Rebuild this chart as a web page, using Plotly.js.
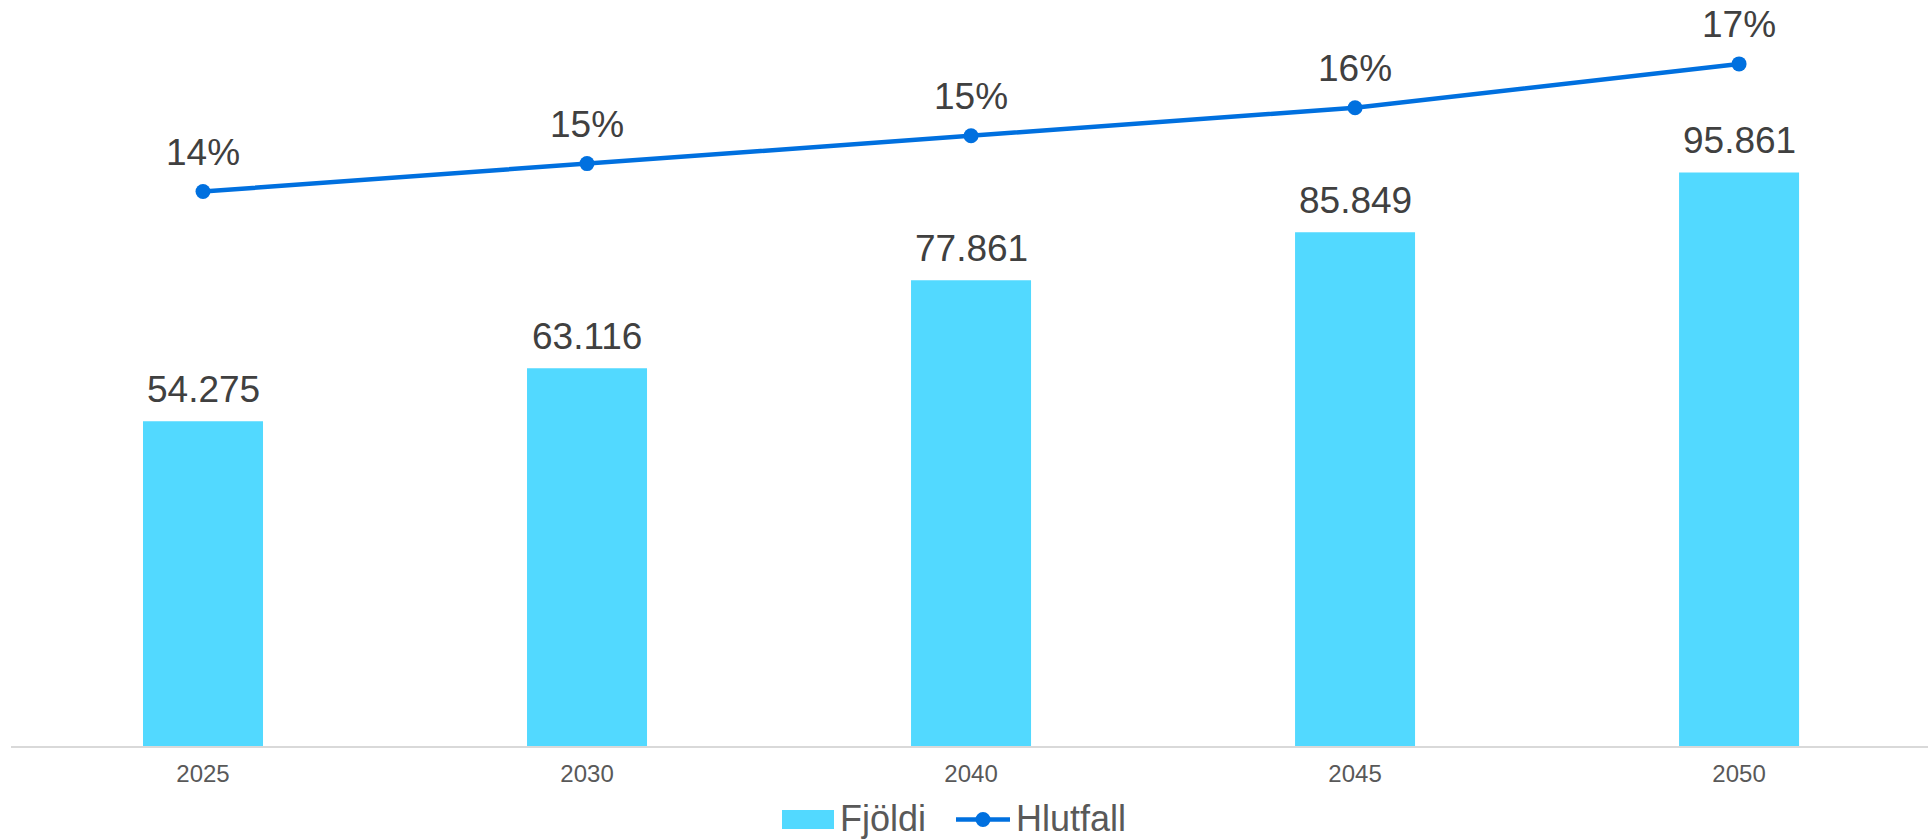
<!DOCTYPE html>
<html>
<head>
<meta charset="utf-8">
<script src="https://cdn.plot.ly/plotly-3.0.1.min.js"></script>
<style>
html,body{margin:0;padding:0;background:#fff;}
#chart{width:1928px;height:839px;}
</style>
</head>
<body>
<div id="chart"></div>
<script>
const years = ["2025", "2030", "2040", "2045", "2050"];
const fjoldi = [54275, 63116, 77861, 85849, 95861];
const hlutfall = [0.139, 0.146, 0.153, 0.160, 0.171];
const seriesNames = ["Fjöldi", "Hlutfall"];

const barColor = "#52D9FF";
const lineColor = "#0070DF";
const FONT = "Liberation Sans, Arial, sans-serif";

const traces = [
  {
    type: "bar",
    name: seriesNames[0],
    x: years,
    y: fjoldi,
    marker: {color: barColor},
    showlegend: false,
    hoverinfo: "x+y"
  },
  {
    type: "scatter",
    mode: "lines+markers",
    name: seriesNames[1],
    x: years,
    y: hlutfall,
    yaxis: "y2",
    line: {color: lineColor, width: 4.5},
    marker: {color: lineColor, size: 15},
    cliponaxis: false,
    showlegend: false
  }
];

const fmtThousands = v => String(v).replace(/\B(?=(\d{3})+(?!\d))/g, ".");
const fmtPct = v => Math.round(v * 100) + "%";

// category positions are the indices of the years on the category axis
const labelFont = {family: FONT, size: 37, color: "#404040"};
const barLabels = years.map((yr, i) => ({
  x: i, y: fjoldi[i], xref: "x", yref: "y",
  text: fmtThousands(fjoldi[i]), showarrow: false,
  xanchor: "center", yanchor: "bottom", yshift: 9, font: labelFont
}));
const lineLabels = years.map((yr, i) => ({
  x: i, y: hlutfall[i], xref: "x", yref: "y2",
  text: fmtPct(hlutfall[i]), showarrow: false,
  xanchor: "center", yanchor: "bottom", yshift: 17, font: labelFont
}));

// custom legend placement (paper coords)
const L = 11, PW = 1917, T = 28, PH = 718;
const px = v => (v - L) / PW;
const py = v => (T + PH - v) / PH;

const layout = {
  width: 1928,
  height: 839,
  margin: {l: L, r: 0, t: T, b: 839 - T - PH},
  paper_bgcolor: "#ffffff",
  plot_bgcolor: "#ffffff",
  bargap: 0.6875,
  font: {family: FONT, color: "#595959"},
  xaxis: {
    type: "category",
    range: [-0.5, 4.492],
    showline: true,
    linecolor: "#D9D9D9",
    linewidth: 2,
    ticks: "",
    ticklabelstandoff: 5,
    showgrid: false,
    zeroline: false,
    tickfont: {family: FONT, size: 24, color: "#595959"}
  },
  yaxis: {
    range: [0, 120000],
    visible: false,
    showgrid: false,
    zeroline: false
  },
  yaxis2: {
    range: [0, 0.18],
    overlaying: "y",
    visible: false,
    showgrid: false,
    zeroline: false
  },
  shapes: [
    {type: "rect", xref: "paper", yref: "paper",
     x0: px(782), x1: px(834), y0: py(829), y1: py(810),
     fillcolor: barColor, line: {width: 0}},
    {type: "line", xref: "paper", yref: "paper",
     x0: px(956), x1: px(1010), y0: py(819.5), y1: py(819.5),
     line: {color: lineColor, width: 4.5}},
    {type: "circle", xref: "paper", yref: "paper",
     x0: px(975.5), x1: px(990.5), y0: py(827), y1: py(812),
     fillcolor: lineColor, line: {width: 0}}
  ],
  annotations: barLabels.concat(lineLabels).concat([
    {xref: "paper", yref: "paper", x: px(838), y: py(818),
     xanchor: "left", yanchor: "middle", showarrow: false,
     text: seriesNames[0], font: {family: FONT, size: 36, color: "#595959"}},
    {xref: "paper", yref: "paper", x: px(1014), y: py(818),
     xanchor: "left", yanchor: "middle", showarrow: false,
     text: seriesNames[1], font: {family: FONT, size: 36, color: "#595959"}}
  ]),
  showlegend: false
};

Plotly.newPlot("chart", traces, layout, {displayModeBar: false, staticPlot: true});
</script>
</body>
</html>
